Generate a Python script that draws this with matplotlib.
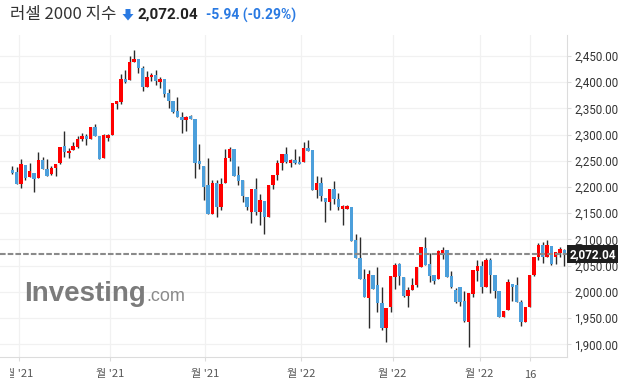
import matplotlib
matplotlib.use("Agg")
import matplotlib.pyplot as plt
from matplotlib.patches import Polygon
from matplotlib.transforms import Bbox
import numpy as np

plt.rcParams['font.family'] = ['Noto Sans CJK KR', 'DejaVu Sans']

# daily candles, left to right
opens = [2232, 2229, 2206, 2242, 2220, 2227, 2218, 2251, 2235, 2224,
         2237, 2245, 2278, 2264, 2271, 2276, 2292, 2297, 2292, 2314,
         2297, 2256, 2294, 2300, 2359, 2362, 2406, 2405, 2439, 2444,
         2428, 2391, 2409, 2414, 2401, 2406, 2379, 2364, 2345, 2334,
         2328, 2335, 2330, 2249, 2241, 2203, 2149, 2207, 2161, 2208,
         2255, 2273, 2223, 2213, 2181, 2153, 2197, 2153, 2173, 2143,
         2204, 2223, 2245, 2263, 2246, 2252, 2248, 2248, 2274, 2271,
         2195, 2208, 2180, 2172, 2196, 2178, 2159, 2159, 2161, 2099,
         2064, 2025, 1988, 2032, 2013, 1978, 1932, 1971, 2029, 2053,
         2028, 1993, 2004, 2013, 2048, 2083, 2053, 2032, 2024, 2075,
         2080, 2030, 2004, 2009, 1983, 1943, 1996, 2040, 2050, 2010,
         2061, 2032, 2002, 1953, 1965, 2015, 2013, 1981, 1943, 1971,
         2032, 2066, 2089, 2067, 2088, 2066, 2075, 2080]
highs = [2241, 2239, 2253, 2242, 2245, 2227, 2266, 2257, 2253, 2241,
         2244, 2276, 2307, 2274, 2285, 2297, 2304, 2302, 2314, 2321,
         2297, 2301, 2301, 2360, 2365, 2416, 2424, 2450, 2461, 2444,
         2431, 2421, 2418, 2423, 2410, 2406, 2387, 2364, 2371, 2344,
         2335, 2338, 2330, 2282, 2241, 2255, 2213, 2213, 2218, 2272,
         2277, 2273, 2241, 2213, 2181, 2196, 2217, 2187, 2173, 2203,
         2223, 2252, 2263, 2276, 2254, 2272, 2260, 2286, 2290, 2271,
         2222, 2219, 2180, 2196, 2211, 2189, 2166, 2166, 2161, 2110,
         2105, 2044, 2042, 2032, 2048, 2009, 1969, 2030, 2055, 2056,
         2028, 2010, 2027, 2047, 2085, 2105, 2074, 2032, 2080, 2085,
         2080, 2039, 2007, 2009, 2002, 1997, 2042, 2061, 2058, 2065,
         2065, 2032, 2002, 1964, 2024, 2015, 2028, 1985, 1971, 2032,
         2067, 2093, 2095, 2099, 2088, 2076, 2085, 2081]
lows = [2224, 2206, 2199, 2213, 2220, 2190, 2217, 2235, 2222, 2223,
        2222, 2244, 2257, 2256, 2270, 2274, 2287, 2280, 2292, 2298,
        2254, 2256, 2288, 2300, 2348, 2358, 2398, 2405, 2439, 2417,
        2383, 2391, 2403, 2394, 2389, 2371, 2350, 2342, 2333, 2304,
        2307, 2330, 2217, 2234, 2176, 2149, 2149, 2143, 2156, 2208,
        2250, 2222, 2203, 2171, 2156, 2132, 2147, 2128, 2110, 2143,
        2197, 2213, 2232, 2245, 2238, 2244, 2243, 2248, 2269, 2195,
        2180, 2174, 2134, 2157, 2168, 2156, 2128, 2159, 2098, 2064,
        2024, 1990, 1932, 2005, 1962, 1927, 1904, 1962, 2005, 2013,
        1990, 1971, 2004, 2010, 2048, 2051, 2018, 2015, 2024, 2062,
        2028, 2007, 1978, 1973, 1943, 1895, 1990, 2021, 1997, 2010,
        1997, 1988, 1953, 1953, 1965, 1983, 1981, 1934, 1943, 1971,
        2030, 2060, 2056, 2067, 2051, 2054, 2066, 2049]
closes = [2227, 2206, 2244, 2218, 2231, 2216, 2251, 2235, 2222, 2237,
          2244, 2276, 2267, 2269, 2279, 2292, 2297, 2292, 2314, 2298,
          2254, 2299, 2299, 2360, 2364, 2406, 2401, 2438, 2444, 2428,
          2391, 2410, 2414, 2403, 2406, 2378, 2365, 2344, 2333, 2328,
          2334, 2330, 2246, 2243, 2201, 2149, 2207, 2161, 2206, 2255,
          2272, 2222, 2212, 2182, 2161, 2196, 2153, 2175, 2142, 2203,
          2223, 2245, 2263, 2248, 2252, 2246, 2243, 2274, 2269, 2195,
          2208, 2182, 2172, 2196, 2178, 2161, 2164, 2164, 2098, 2064,
          2025, 1990, 2034, 2005, 1978, 1932, 1969, 2030, 2051, 2030,
          1992, 2004, 2013, 2047, 2085, 2051, 2030, 2021, 2078, 2080,
          2028, 2010, 1981, 1981, 1945, 1997, 2042, 2049, 2010, 2061,
          2032, 2002, 1953, 1964, 2018, 2010, 1981, 1943, 1971, 2032,
          2067, 2089, 2066, 2090, 2053, 2076, 2081, 2072.04]

tick_pos = [1.5, 22.5, 44.4, 66.5, 87.5, 107.5, 119.2]
tick_labels = ["월 '21", "월 '21", "월 '21", "월 '22", "월 '22", "월 '22", "16"]
y_ticks = list(range(1900, 2451, 50))

title = "러셀 2000 지수"
last_price = 2072.04
last_text = "2,072.04"
change_text = "-5.94 (-0.29%)"

UP = '#ff0000'
DOWN = '#4c9fdb'
BLUE_TXT = '#2a7ae2'

W, H = 627, 385
fig = plt.figure(figsize=(W / 100, H / 100), dpi=100)
ax = fig.add_axes([0, 28 / H, 567 / W, 322 / H])


def fpx(x, y):
    # figure pixel (from top-left) -> figure fraction
    return x / W, 1 - y / H


o = np.array(opens, float)
h = np.array(highs, float)
l = np.array(lows, float)
c = np.array(closes, float)
x = np.arange(len(o))
colors = [UP if cc >= oo else DOWN for oo, cc in zip(o, c)]

ax.vlines(x, l, h, color='#2b2b2b', lw=1.0, zorder=3)
ax.bar(x, np.abs(c - o), bottom=np.minimum(o, c), width=0.78,
       color=colors, linewidth=0, zorder=4)

ax.set_xlim(-2.83, 127.6)
ax.set_ylim(1875.8, 2490)

for t in tick_pos:
    ax.axvline(t, color='#f1f1f1', lw=0.9, zorder=0)
for v in y_ticks:
    ax.axhline(v, color='#f1f1f1', lw=0.9, zorder=0)

ax.axhline(last_price, color='#8a8a8a', lw=1.5, ls=(0, (2.7, 1.0)), zorder=5)

for side in ['top', 'left']:
    ax.spines[side].set_visible(False)
for side in ['right', 'bottom']:
    ax.spines[side].set_color('#dcdcdc')
    ax.spines[side].set_linewidth(0.8)

ax.yaxis.tick_right()
ax.set_yticks(y_ticks)
ax.set_yticklabels([f"{v:,.2f}" for v in y_ticks], family='Roboto', fontsize=8.3, color='#333333')
ax.tick_params(axis='y', length=3, color='#dcdcdc', pad=2)

ax.set_xticks(tick_pos)
ax.set_xticklabels(tick_labels, fontsize=8, color='#555555')
ax.tick_params(axis='x', length=3, color='#dcdcdc', pad=6)
first = ax.get_xticklabels()[0]
first.set_clip_box(Bbox.from_extents(10, 0, W, H))
first.set_clip_on(True)

ax.annotate(last_text, xy=(1.0, last_price), xycoords=('axes fraction', 'data'),
            xytext=(1.7, 0), textcoords='offset points', ha='left', va='center',
            color='white', fontsize=8.5, fontweight='bold', family='Roboto',
            bbox=dict(boxstyle='square,pad=0.2', fc='#1e1e1e', ec='none'),
            annotation_clip=False, zorder=6)

# header
fig.text(*fpx(10, 15), title, fontsize=12, color='#333333', va='center', ha='left')
arrow = [(125.5, 9), (130.5, 9), (130.5, 14), (133.5, 14), (128, 20.5), (122.5, 14), (125.5, 14)]
fig.patches.append(Polygon([fpx(a, b) for a, b in arrow], closed=True, fc=BLUE_TXT, ec='none',
                           transform=fig.transFigure, figure=fig))
fig.text(*fpx(137, 15), last_text, fontsize=11, fontweight='bold', color='#222222',
         va='center', ha='left', family='Roboto')
fig.text(*fpx(206, 15), change_text, fontsize=10, fontweight='bold', color=BLUE_TXT,
         va='center', ha='left', family='Roboto')

# watermark
fig.text(*fpx(24, 301), "Investing", fontsize=20, fontweight='bold', color='#7b7b7b',
         va='baseline', ha='left', family='Liberation Sans')
fig.text(*fpx(146, 301), ".com", fontsize=13, color='#8a8a8a',
         va='baseline', ha='left', family='Liberation Sans')

fig.savefig('out.png', dpi=100)
